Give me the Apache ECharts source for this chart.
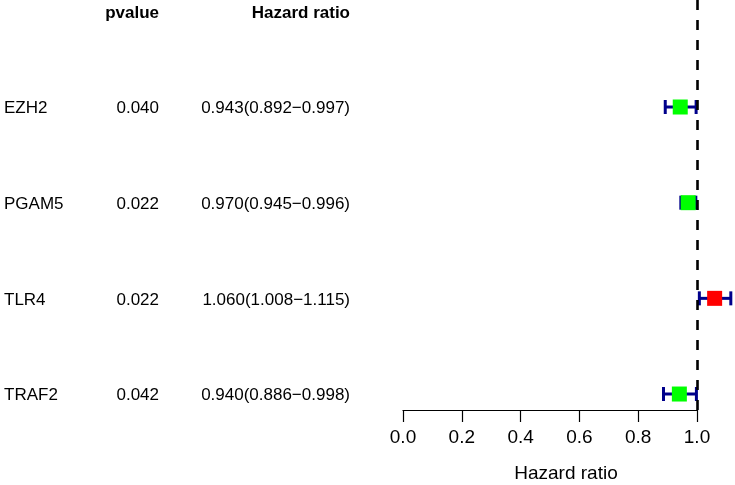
<!DOCTYPE html>
<html><head><meta charset="utf-8">
<script src="https://cdn.jsdelivr.net/npm/echarts@6/dist/echarts.min.js"></script>
<style>html,body{margin:0;padding:0;background:#fff}#c{width:735px;height:485px}</style>
</head><body><div id="c"></div>
<script>
// ---- data ----
const genes = ['EZH2', 'PGAM5', 'TLR4', 'TRAF2'];
const pvalues = ['0.040', '0.022', '0.022', '0.042'];
const hr = [0.943, 0.970, 1.060, 0.940];
const hrLow = [0.892, 0.945, 1.008, 0.886];
const hrHigh = [0.997, 0.996, 1.115, 0.998];
const headers = ['pvalue', 'Hazard ratio'];
const xTickValues = [0.0, 0.2, 0.4, 0.6, 0.8, 1.0];
const refValue = 1;
const axisTitle = 'Hazard ratio';

// ---- layout / style ----
const FONT = "'Liberation Sans', Arial, Helvetica, sans-serif";
const COL_GENE_X = 4, COL_P_X = 159, COL_HR_X = 350;
const TXT_SIZE = 17, TXT_DY = 1.5;
const BOX = 15, CAP = 14;
const hrText = hr.map((v, i) => v.toFixed(3) + '(' + hrLow[i].toFixed(3) + '\u2212' + hrHigh[i].toFixed(3) + ')');

const textData = genes.map((g, i) => [i + 1, g, pvalues[i], hrText[i]]);
const forestData = genes.map((g, i) => [i + 1, hr[i], hrLow[i], hrHigh[i]]);

function txt(x, y, s, align, bold) {
  return { type: 'text', x: x, y: y + TXT_DY, style: { text: s, align: align, verticalAlign: 'middle',
    font: (bold ? 'bold ' : '') + TXT_SIZE + 'px ' + FONT, fill: '#000' } };
}

const chart = echarts.init(document.getElementById('c'), null, { renderer: 'canvas' });
chart.setOption({
  animation: false,
  backgroundColor: '#fff',
  grid: { left: 403, width: 294, top: 0, height: 410, containLabel: false },
  xAxis: {
    type: 'value', min: xTickValues[0], max: xTickValues[xTickValues.length - 1],
    interval: xTickValues[1] - xTickValues[0],
    axisLine: { show: true, onZero: false, lineStyle: { color: '#000', width: 1.2 } },
    axisTick: { show: true, length: 12, inside: false, lineStyle: { color: '#000', width: 1.2 } },
    axisLabel: { show: true, color: '#000', fontSize: 19, fontFamily: FONT, margin: 18,
      showMinLabel: true, showMaxLabel: true, formatter: v => v.toFixed(1) },
    splitLine: { show: false }
  },
  yAxis: { type: 'value', min: -0.1185, max: 4.167, inverse: true, show: false },
  graphic: [{
    type: 'text', x: 566, y: 474,
    style: { text: axisTitle, align: 'center', verticalAlign: 'middle', font: '19px ' + FONT, fill: '#000' }
  }],
  series: [
    {
      type: 'custom', clip: false, silent: true,
      data: [[0, headers[0], headers[1]]],
      encode: { y: 0 },
      renderItem: (params, api) => {
        const y = api.coord([0, api.value(0)])[1];
        return { type: 'group', children: [
          txt(COL_P_X, y, headers[0], 'right', true),
          txt(COL_HR_X, y, headers[1], 'right', true)
        ] };
      }
    },
    {
      type: 'custom', clip: false, silent: true,
      data: textData,
      encode: { y: 0 },
      renderItem: (params, api) => {
        const i = params.dataIndex;
        const y = api.coord([0, api.value(0)])[1];
        return { type: 'group', children: [
          txt(COL_GENE_X, y, textData[i][1], 'left', false),
          txt(COL_P_X, y, textData[i][2], 'right', false),
          txt(COL_HR_X, y, textData[i][3], 'right', false)
        ] };
      }
    },
    {
      type: 'custom', clip: false, silent: true,
      data: forestData,
      encode: { x: [1, 2, 3], y: 0 },
      renderItem: (params, api) => {
        const row = api.value(0);
        const c = api.coord([api.value(1), row]);
        const lo = api.coord([api.value(2), row]);
        const hi = api.coord([api.value(3), row]);
        const y = c[1];
        const stroke = { stroke: '#00008B', lineWidth: 3, fill: null };
        const color = api.value(1) > refValue ? '#FF0000' : '#00FF00';
        return { type: 'group', children: [
          { type: 'line', shape: { x1: lo[0], y1: y, x2: hi[0], y2: y }, style: stroke },
          { type: 'line', shape: { x1: lo[0], y1: y - CAP / 2, x2: lo[0], y2: y + CAP / 2 }, style: stroke },
          { type: 'line', shape: { x1: hi[0], y1: y - CAP / 2, x2: hi[0], y2: y + CAP / 2 }, style: stroke },
          { type: 'rect', shape: { x: c[0] - BOX / 2, y: y - BOX / 2, width: BOX, height: BOX }, style: { fill: color } }
        ] };
      },
      markLine: {
        silent: true, symbol: ['none', 'none'],
        label: { show: false },
        lineStyle: { color: '#000', width: 2.6, type: [10, 10] },
        data: [{ xAxis: refValue }]
      }
    }
  ]
});
</script>
</body></html>
